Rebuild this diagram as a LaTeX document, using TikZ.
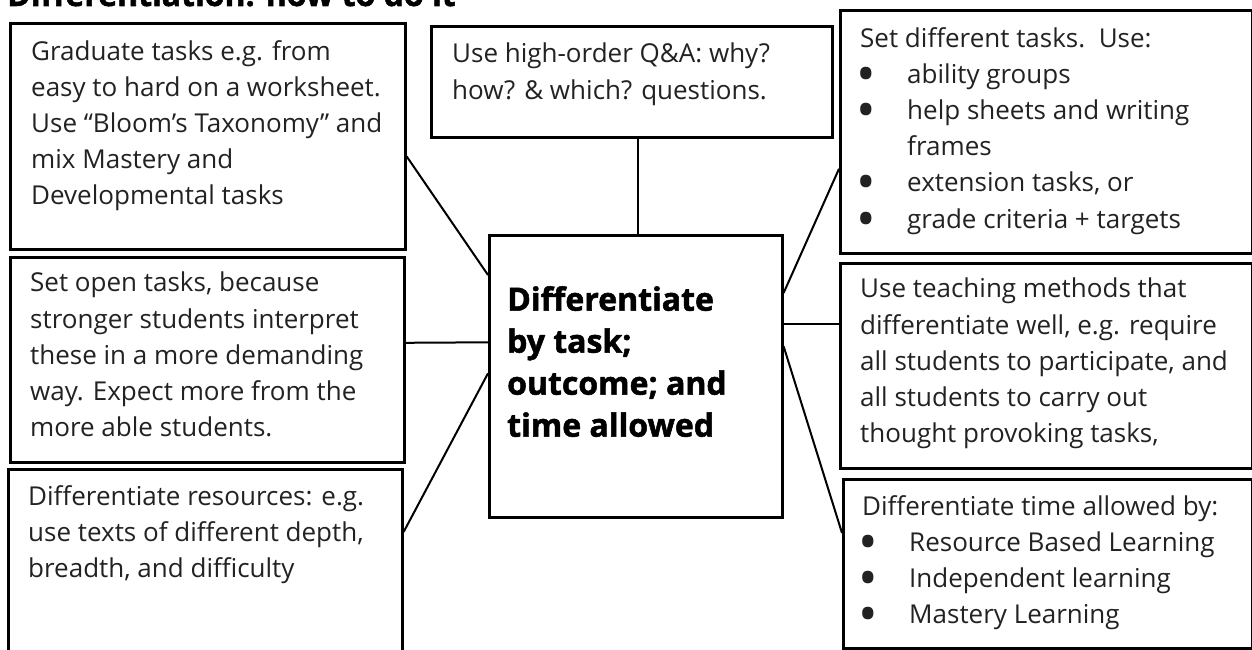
\documentclass[tikz,border=0pt]{standalone}
\usepackage{fontspec}
\setmainfont{Open Sans}
\newfontfamily\heavyfont{Open Sans}[BoldFeatures={FakeBold=1.6}]
\usetikzlibrary{positioning}

\definecolor{inkgray}{HTML}{222222}

\tikzset{
  box/.style={draw, line width=2.6pt, inner sep=0pt, anchor=north west},
  note/.style={inner sep=0pt, align=left, text=inkgray,
    font=\fontsize{26}{36.2}\selectfont},
  link/.style={line width=2pt},
}

% bullet with its hanging indent
\newcommand{\bul}{\hspace*{-4pt}\makebox[51pt][l]{\smash{\raisebox{-9pt}{\scalebox{2}{\textbullet}}}}}

\begin{document}
\begin{tikzpicture}[x=1pt, y=-1pt]
\useasboundingbox (0,0) rectangle (1252,650);
\clip (0,0) rectangle (1252,650);

% heading, mostly above the top edge
\node[anchor=base west, inner sep=0pt, font=\heavyfont\bfseries\fontsize{32}{38}\selectfont] (title) at (7,6) {Differentiation: how to do it};

% boxes
\node[box, minimum width=395pt, minimum height=226pt] (grad) at (9,22) {};
\node[box, minimum width=394pt, minimum height=205pt] (open) at (9,256) {};
\node[box, minimum width=394pt, minimum height=200pt] (res) at (7,468) {};
\node[box, minimum width=401pt, minimum height=111pt] (qa) at (430,25) {};
\node[box, minimum width=293pt, minimum height=282pt] (centre) at (488,234) {};
\node[box, minimum width=412pt, minimum height=243pt] (set) at (839,9) {};
\node[box, minimum width=412pt, minimum height=205pt] (meth) at (839,262) {};
\node[box, minimum width=409pt, minimum height=169pt] (time) at (842,478) {};

% texts
\node[note, below right=18pt and 22pt of grad.north west] (gradtxt) {Graduate tasks e.g. from\\easy to hard on a worksheet.\\Use “Bloom’s Taxonomy” and\\mix Mastery and\\Developmental tasks};
\node[note, below right=16pt and 21pt of open.north west] (opentxt) {Set open tasks, because\\stronger students interpret\\these in a more demanding\\way. Expect more from the\\more able students.};
\node[note, below right=17pt and 21pt of res.north west] (restxt) {Differentiate resources: e.g.\\use texts of different depth,\\breadth, and difficulty};
\node[note, below right=18pt and 22pt of qa.north west] (qatxt) {Use high-order Q\&A: why?\\how? \& which? questions.};
\node[note, below right=18pt and 21pt of set.north west] (settxt) {Set different tasks.\ \ Use:\\\bul ability groups\\\bul help sheets and writing\\\hspace*{47pt}frames\\\bul extension tasks, or\\\bul grade criteria + targets};
\node[note, below right=16pt and 21pt of meth.north west] (methtxt) {Use teaching methods that\\differentiate well, e.g. require\\all students to participate, and\\all students to carry out\\thought provoking tasks,};
\node[note, below right=17pt and 20pt of time.north west] (timetxt) {Differentiate time allowed by:\\\bul Resource Based Learning\\\bul Independent learning\\\bul Mastery Learning};
\node[inner sep=0pt, align=left, font=\heavyfont\bfseries\fontsize{32}{42}\selectfont,
  below right=52pt and 19pt of centre.north west] (centretxt) {Differentiate\\by task;\\outcome; and\\time allowed};

% spokes to the centre
\draw[link] ([yshift=-20pt]grad.east) -- ([yshift=-41pt]centre.north west);
\draw[link] ([yshift=17pt]open.east) -- ([yshift=34pt]centre.west);
\draw[link] ([yshift=-64pt]res.north east) -- ([yshift=3pt]centre.west);
\draw[link] ([xshift=2pt]centre.north) -- ([xshift=2pt]centre.north |- qa.south);
\draw[link] ([yshift=-37pt]set.west) -- ([yshift=-59pt]centre.north east);
\draw[link] ([yshift=52pt]centre.east) -- ([yshift=41.5pt]meth.west);
\draw[link] ([yshift=30pt]centre.east) -- ([yshift=-55pt]time.north west);

\end{tikzpicture}
\end{document}
